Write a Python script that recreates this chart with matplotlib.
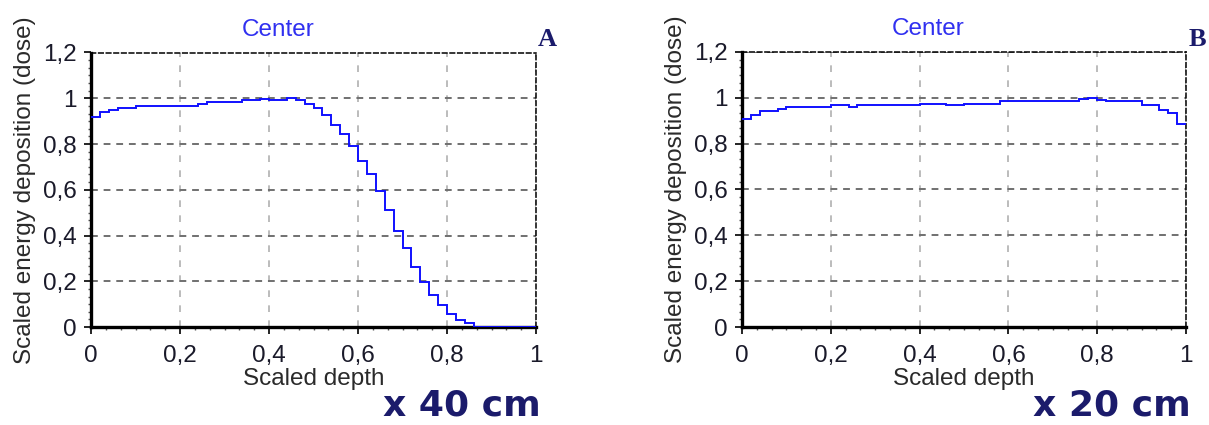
import matplotlib
matplotlib.use("Agg")
import matplotlib.pyplot as plt
from matplotlib.ticker import MultipleLocator, AutoMinorLocator, FuncFormatter

# depth bin edges (scaled) and scaled dose for each panel
depth_edges_a = [0.00, 0.02, 0.04, 0.06, 0.10, 0.24, 0.26, 0.34, 0.38, 0.40, 0.44,
                 0.46, 0.48, 0.50, 0.52, 0.54, 0.56, 0.58, 0.60, 0.62, 0.64, 0.66,
                 0.68, 0.70, 0.72, 0.74, 0.76, 0.78, 0.80, 0.82, 0.84, 0.86, 1.00]
dose_a = [0.917, 0.942, 0.949, 0.956, 0.967, 0.975, 0.984, 0.991, 0.997, 0.991,
          0.999, 0.993, 0.975, 0.956, 0.925, 0.884, 0.842, 0.792, 0.726, 0.669,
          0.594, 0.511, 0.421, 0.345, 0.263, 0.196, 0.138, 0.097, 0.055, 0.032,
          0.016, 0.000]

depth_edges_b = [0.00, 0.02, 0.04, 0.08, 0.10, 0.20, 0.24, 0.26, 0.40, 0.46, 0.50,
                 0.58, 0.76, 0.78, 0.80, 0.82, 0.90, 0.94, 0.96, 0.98, 1.00]
dose_b = [0.909, 0.926, 0.944, 0.952, 0.960, 0.967, 0.958, 0.968, 0.975, 0.967,
          0.975, 0.984, 0.993, 0.999, 0.991, 0.984, 0.967, 0.949, 0.935, 0.884]

panel_letters = ["A", "B"]
length_notes = ["x 40 cm", "x 20 cm"]

plt.rcParams['font.family'] = ['Liberation Sans', 'DejaVu Sans']

fig = plt.figure(figsize=(12.09, 4.25), dpi=100)
ax_a = fig.add_axes([91/1209, 98/425, 445/1209, 274.5/425])
ax_b = fig.add_axes([742/1209, 98/425, 444/1209, 275/425])

comma = FuncFormatter(lambda v, p: ('%g' % round(v, 2)).replace('.', ','))
navy = '#1b1b6b'
fs = 17.5

for ax, edges, dose, letter, note in zip([ax_a, ax_b], [depth_edges_a, depth_edges_b],
                                         [dose_a, dose_b], panel_letters, length_notes):
    ax.stairs(dose, edges, color='#1010ff', lw=1.4, baseline=None, zorder=3)
    ax.set_xlim(0, 1)
    ax.set_ylim(0, 1.2)
    ax.xaxis.set_major_locator(MultipleLocator(0.2))
    ax.yaxis.set_major_locator(MultipleLocator(0.2))
    ax.xaxis.set_minor_locator(AutoMinorLocator(6))
    ax.yaxis.set_minor_locator(AutoMinorLocator(6))
    ax.xaxis.set_major_formatter(comma)
    ax.yaxis.set_major_formatter(comma)
    ax.tick_params(which='major', length=5, width=1.2, labelsize=fs,
                   labelcolor='#1a1a2a', direction='out')
    ax.tick_params(which='minor', length=2.5, width=1, color='#555555', direction='out')
    ax.tick_params(axis='x', pad=8)
    ax.tick_params(axis='y', pad=5)

    # the grid: light dashed verticals, darker dashed horizontals
    ax.grid(axis='x', which='major', color='#b0b0b0', ls=(0, (4, 5)), lw=1.2)
    ax.grid(axis='y', which='major', color='#707070', ls=(0, (3.5, 3)), lw=1.4)

    ax.spines['left'].set_linewidth(2.4)
    ax.spines['bottom'].set_linewidth(2.4)
    for side in ['top', 'right']:
        ax.spines[side].set_linestyle((0, (3, 2)))
        ax.spines[side].set_linewidth(1.1)

    ax.set_title('Center', color='#3030f0', fontsize=fs, pad=12, x=0.42)
    ax.set_xlabel('Scaled depth', fontsize=fs, color='#2a2a2a', labelpad=1)
    ax.set_ylabel('Scaled energy deposition (dose)', fontsize=fs, color='#2a2a2a', labelpad=5)

    ax.text(1.005, 1.005, letter, transform=ax.transAxes, ha='left', va='bottom',
            fontsize=19, fontweight='bold', color=navy, family='Liberation Serif')
    ax.text(1.01, -0.225, note, transform=ax.transAxes, ha='right', va='top',
            fontsize=26, fontweight='bold', color=navy, family='DejaVu Sans')

fig.savefig('out.png', dpi=100)
